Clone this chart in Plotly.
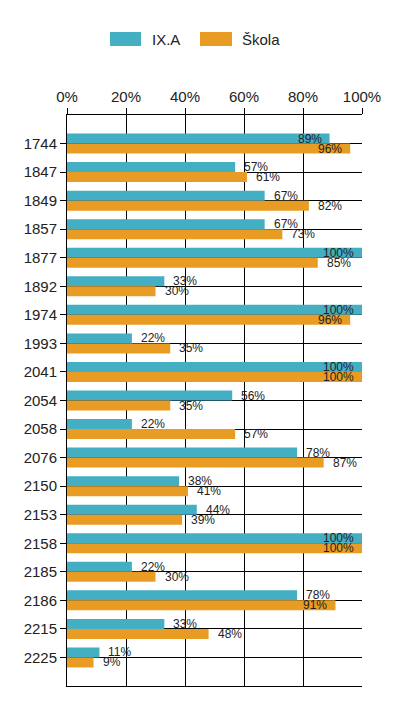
import plotly.graph_objects as go

categories = ["1744", "1847", "1849", "1857", "1877", "1892", "1974", "1993", "2041",
              "2054", "2058", "2076", "2150", "2153", "2158", "2185", "2186", "2215", "2225"]
ixa = [89, 57, 67, 67, 100, 33, 100, 22, 100, 56, 22, 78, 38, 44, 100, 22, 78, 33, 11]
skola = [96, 61, 82, 73, 85, 30, 96, 35, 100, 35, 57, 87, 41, 39, 100, 30, 91, 48, 9]
series_names = ["IX.A", "Škola"]
colors = ["#44AEC3", "#E99C24"]
tick_vals = [0, 20, 40, 60, 80, 100]
tick_text = ["0%", "20%", "40%", "60%", "80%", "100%"]

FONT = "Arial, Liberation Sans, sans-serif"

fig = go.Figure()
for name, vals, col in zip(series_names, [ixa, skola], colors):
    fig.add_trace(go.Bar(
        y=categories, x=vals, name=name, orientation="h",
        marker=dict(color=col, line=dict(width=0)),
        showlegend=False, hoverinfo="x+y",
    ))

annotations = []
for si, vals in enumerate([ixa, skola]):
    ysh = 5 if si == 0 else -5
    for i, v in enumerate(vals):
        inside = v >= 89
        annotations.append(dict(
            x=v, y=i, xref="x", yref="y", text=f"{v}%", showarrow=False,
            xanchor="right" if inside else "left",
            xshift=-6 if inside else 7, yshift=ysh,
            font=dict(family=FONT, size=12, color="#222222"),
        ))

# custom legend (positions relative to plot area, page px: 67..362 x, 115..686 y)
legend_items = [(110, 141, 150), (200, 232, 240)]
shapes = []
for (x0, x1, tx), name, col in zip(legend_items, series_names, colors):
    shapes.append(dict(type="rect", xref="paper", yref="paper",
                       x0=(x0 - 67) / 295, x1=(x1 - 67) / 295,
                       y0=(686 - 46) / 571, y1=(686 - 32) / 571,
                       fillcolor=col, line=dict(width=0)))
    annotations.append(dict(x=(tx - 67) / 295, y=(686 - 39) / 571, xref="paper", yref="paper",
                            text=name, showarrow=False, xanchor="left", yanchor="middle",
                            font=dict(family=FONT, size=15, color="#222222")))

fig.update_layout(
    width=400, height=720,
    margin=dict(l=59, r=46, t=107, b=42, pad=0, autoexpand=False),
    paper_bgcolor="white", plot_bgcolor="white",
    barmode="group", bargap=0.3, bargroupgap=0,
    font=dict(family=FONT, size=15, color="#222222"),
    annotations=annotations, shapes=shapes,
    xaxis=dict(side="top", range=[0, 100], tickvals=tick_vals, ticktext=tick_text,
               showgrid=True, gridcolor="black", gridwidth=1,
               ticks="outside", ticklen=6, tickcolor="black",
               showline=True, linecolor="black", linewidth=1, mirror=True,
               zeroline=False, tickfont=dict(size=15, color="#222222")),
    yaxis=dict(type="category", categoryorder="array", categoryarray=categories,
               range=[len(categories), -1],
               showgrid=True, gridcolor="black", gridwidth=1,
               ticks="outside", ticklen=6, tickcolor="black",
               showline=True, linecolor="black", linewidth=1,
               zeroline=False, tickfont=dict(size=15, color="#222222")),
)

fig.write_html("out.html")
